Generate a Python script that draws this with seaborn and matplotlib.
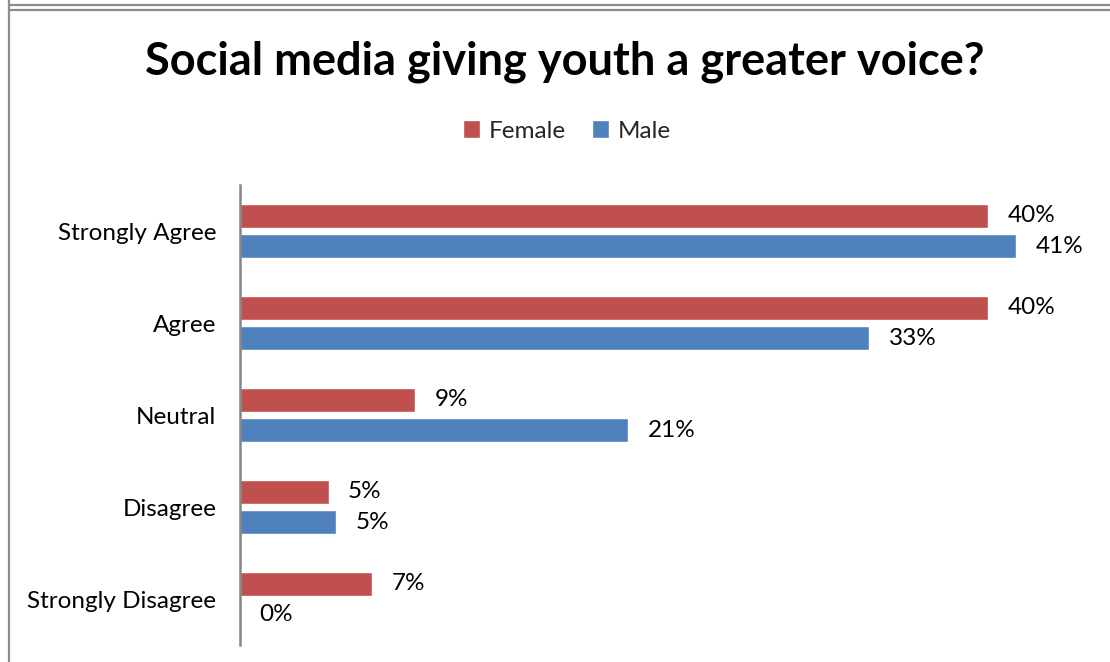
import matplotlib
matplotlib.use("Agg")
import matplotlib.pyplot as plt
import seaborn as sns
import pandas as pd
from matplotlib.lines import Line2D

categories = ["Strongly Agree", "Agree", "Neutral", "Disagree", "Strongly Disagree"]
female = [39.7, 39.7, 9.3, 4.7, 7.0]
male = [41.2, 33.4, 20.6, 5.1, 0.0]
series = ["Female", "Male"]
colors = ["#C0504D", "#4F81BD"]
title = "Social media giving youth a greater voice?"

df = pd.DataFrame({
    "category": categories * 2,
    "series": ["Female"] * len(categories) + ["Male"] * len(categories),
    "value": female + male,
})

sns.set_theme(style="white")
plt.rcParams["font.family"] = ["Lato", "DejaVu Sans"]

W, H = 1110, 662
fig = plt.figure(figsize=(W / 100, H / 100), dpi=100)
ax = fig.add_axes([240 / W, 1 - 645 / H, (1088 - 240) / W, (645 - 185) / H])

sns.barplot(data=df, y="category", x="value", hue="series", order=categories,
            hue_order=series, palette=colors, orient="h", width=0.66, gap=0.2,
            ax=ax, legend=True, errorbar=None, saturation=1)

ax.set_xlim(0, 45)
ax.set_ylim(len(categories) - 0.5, -0.5)
ax.set_xlabel("")
ax.set_ylabel("")
ax.set_xticks([])
for s in ["top", "right", "bottom"]:
    ax.spines[s].set_visible(False)
ax.spines["left"].set_color("#868686")
ax.spines["left"].set_linewidth(1.8)
ax.tick_params(axis="y", length=0, pad=17, labelsize=17.5, labelcolor="#000000")

for cont in ax.containers:
    ax.bar_label(cont, labels=[f"{v:.0f}%" for v in cont.datavalues],
                 padding=14, fontsize=17.5, color="#000000")

handles, labels = ax.get_legend_handles_labels()
ax.legend_.remove()
fig.legend(handles, labels, loc="center", bbox_to_anchor=(567 / W, 1 - 131 / H),
           ncol=2, frameon=False, fontsize=17.5, handlelength=0.7, handleheight=0.7,
           handletextpad=0.35, columnspacing=1.1)

fig.text(565 / W, 1 - 62 / H, title, ha="center", va="center",
         fontsize=32.5, fontweight="bold", color="#000000")

# outer frame decorations
frame_kw = dict(color="#8C8C8C", linewidth=1.6, transform=fig.transFigure)
fig.add_artist(Line2D([8.5 / W, 1.0], [1 - 4.5 / H, 1 - 4.5 / H], **frame_kw))
fig.add_artist(Line2D([8.5 / W, 1.0], [1 - 9.5 / H, 1 - 9.5 / H], **frame_kw))
fig.add_artist(Line2D([8.5 / W, 8.5 / W], [0.0, 1.0], **frame_kw))

fig.savefig("out.png", dpi=100)
